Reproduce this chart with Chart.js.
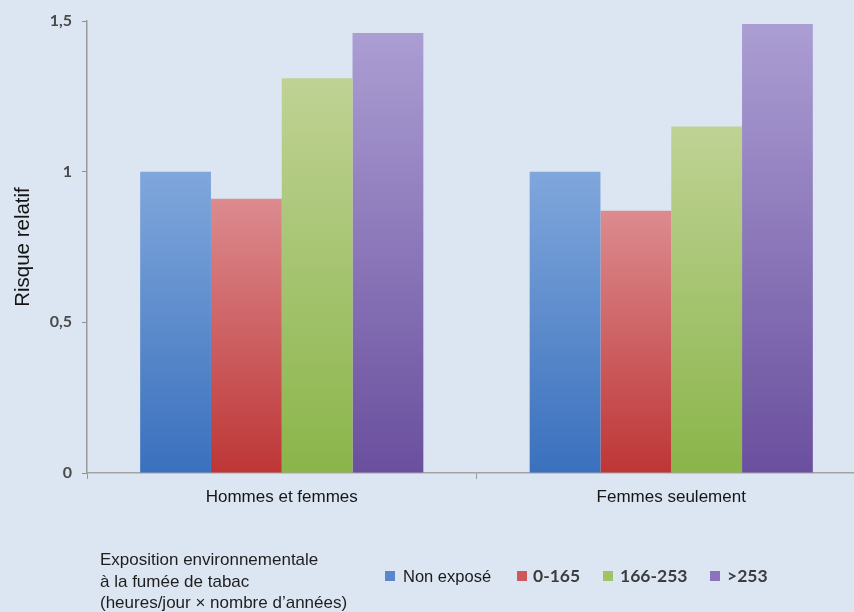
<!DOCTYPE html>
<html lang="fr">
<head>
<meta charset="utf-8">
<title>Risque relatif et exposition à la fumée de tabac</title>
<script src="https://cdn.jsdelivr.net/npm/chart.js@4/dist/chart.umd.min.js"></script>
<style>
  html, body { margin: 0; padding: 0; }
  body {
    width: 854px; height: 612px; overflow: hidden; position: relative;
    background: #dce6f2;
    font-family: "Liberation Sans", Arial, sans-serif;
  }
  #chart { position: absolute; left: 0; top: 0; }
  .note {
    position: absolute; left: 100px; top: 549px;
    font-size: 17px; line-height: 21.5px; color: #1e1e1e;
  }
  .swatch { position: absolute; width: 10px; height: 10px; top: 571px; }
  .lbl { position: absolute; top: 565px; line-height: 22px; white-space: nowrap; }
  .lbl.plain { font-size: 16.5px; color: #1a1a1a; }
  .lbl.num { font-family: Lato, "Liberation Sans", sans-serif; font-weight: 700; font-size: 17.5px; color: #3c3c3c; }
</style>
</head>
<body>
<canvas id="chart" width="866" height="612"></canvas>
<div class="note">Exposition environnementale<br>à la fumée de tabac<br>(heures/jour × nombre d’années)</div>
<div id="legend"></div>
<script>
// Groups on the x axis
const categories = ['Hommes et femmes', 'Femmes seulement'];

// Exposure classes (heures/jour × nombre d'années)
const seriesNames = ['Non exposé', '0-165', '166-253', '>253'];

// Relative risk per exposure class, one value per group
const nonExpose    = [1.00, 1.00];
const expo0to165   = [0.91, 0.87];
const expo166to253 = [1.31, 1.15];
const expoOver253  = [1.46, 1.49];

// Y axis tick values
const yTicks = [0, 0.5, 1, 1.5];

// Bar fills: light at the top of each bar, deeper at the base
const fills = [
  { top: '#80a7dc', bottom: '#3a70bd', swatch: '#5a86cb' },
  { top: '#dc8b8f', bottom: '#be3636', swatch: '#d0585c' },
  { top: '#bfd294', bottom: '#8ab54a', swatch: '#9fc263' },
  { top: '#ab9ed3', bottom: '#6a4f9e', swatch: '#8a74bb' }
];

const seriesValues = [nonExpose, expo0to165, expo166to253, expoOver253];

function barGradient(fill) {
  return (ctx) => {
    const chart = ctx.chart;
    if (!chart.chartArea || ctx.type !== 'data') return fill.swatch;
    const y = chart.scales.y;
    const yTop = y.getPixelForValue(ctx.raw);
    const yBase = y.getPixelForValue(0);
    const g = chart.ctx.createLinearGradient(0, yTop, 0, yBase);
    g.addColorStop(0, fill.top);
    g.addColorStop(1, fill.bottom);
    return g;
  };
}

const datasets = seriesNames.map((name, i) => ({
  label: name,
  data: seriesValues[i],
  backgroundColor: barGradient(fills[i]),
  borderWidth: 0,
  categoryPercentage: 0.727,
  barPercentage: 1.0
}));

new Chart(document.getElementById('chart'), {
  type: 'bar',
  data: { labels: categories, datasets },
  options: {
    responsive: false,
    devicePixelRatio: 1,
    animation: false,
    layout: { padding: { top: 21, right: 0, bottom: 0, left: 0 } },
    plugins: { legend: { display: false }, tooltip: { enabled: false } },
    scales: {
      x: {
        offset: true,
        afterFit: (scale) => { scale.height = 139; },
        grid: { display: true, drawOnChartArea: false, offset: true, tickLength: 6, color: '#9a9a9a' },
        border: { display: true, color: '#a3a3a3', width: 1.5 },
        ticks: {
          padding: 8,
          color: '#161616',
          font: { family: '"Liberation Sans", Arial, sans-serif', size: 17 }
        }
      },
      y: {
        min: 0,
        max: 1.5,
        afterFit: (scale) => { scale.width = 87; },
        afterBuildTicks: (scale) => { scale.ticks = yTicks.map(v => ({ value: v })); },
        grid: { display: true, drawOnChartArea: false, tickLength: 5, color: '#8f8f8f' },
        border: { display: true, color: '#9a9a9a', width: 1.5 },
        ticks: {
          padding: 10,
          color: '#4a4a4a',
          font: { family: 'Lato, "Liberation Sans", sans-serif', size: 16, weight: '700' },
          callback: (v) => String(v).replace('.', ',')
        },
        title: {
          display: true,
          text: 'Risque relatif',
          color: '#141414',
          padding: { top: 11, bottom: 0 },
          font: { family: '"Liberation Sans", Arial, sans-serif', size: 20.5 }
        }
      }
    }
  }
});

// Legend row below the chart
const legendPos = [
  { sw: 385, tx: 403, cls: 'plain' },
  { sw: 517, tx: 533, cls: 'num' },
  { sw: 603, tx: 620, cls: 'num' },
  { sw: 710, tx: 727, cls: 'num' }
];
const legend = document.getElementById('legend');
seriesNames.forEach((name, i) => {
  const sw = document.createElement('div');
  sw.className = 'swatch';
  sw.style.left = legendPos[i].sw + 'px';
  sw.style.background = fills[i].swatch;
  legend.appendChild(sw);
  const t = document.createElement('div');
  t.className = 'lbl ' + legendPos[i].cls;
  t.style.left = legendPos[i].tx + 'px';
  t.textContent = name;
  legend.appendChild(t);
});
</script>
</body>
</html>
